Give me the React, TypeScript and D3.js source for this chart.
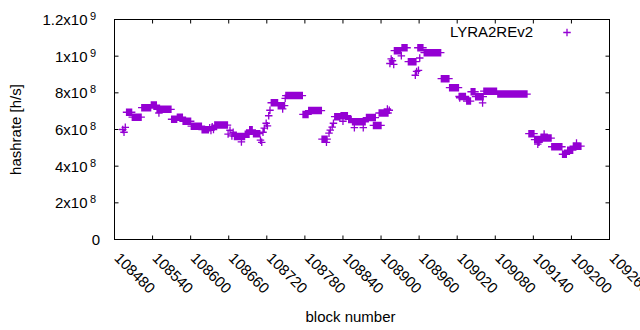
import React from 'react';
import * as d3 from 'd3';

// x axis ticks (block number)
const xTicks = [108480, 108540, 108600, 108660, 108720, 108780, 108840, 108900, 108960, 109020, 109080, 109140, 109200, 109260];
// y axis ticks (h/s) and how gnuplot printed them
const yTicks = [0, 2e8, 4e8, 6e8, 8e8, 1e9, 1.2e9];
const yTickBase = ['0', '2x10', '4x10', '6x10', '8x10', '1x10', '1.2x10'];
const yTickExp = ['', '8', '8', '8', '8', '9', '9'];

const seriesName = 'LYRA2REv2';

// block number of each sample
const blocks = [
  108493, 108495, 108497,
  108499, 108501, 108503, 108505, 108507,
  108508, 108510, 108512, 108514, 108516, 108518, 108520, 108522,
  108523, 108525, 108527, 108529, 108531, 108533, 108535, 108537,
  108538, 108540, 108542, 108544, 108546,
  108547, 108549, 108551, 108553, 108555, 108557, 108559, 108561, 108563, 108565, 108567, 108569, 108550,
  108570, 108572, 108574, 108576, 108578,
  108579, 108581, 108583, 108585, 108587,
  108588, 108590, 108592, 108594, 108596, 108598, 108600,
  108601, 108603, 108605, 108607, 108609, 108611, 108613, 108615, 108617,
  108618, 108620, 108622, 108624, 108626, 108628,
  108630, 108632, 108634, 108636,
  108638, 108640, 108642, 108644, 108646, 108648, 108650, 108652, 108654, 108656, 108658,
  108659, 108662, 108665, 108667,
  108669, 108671, 108673, 108675, 108677, 108679, 108681, 108683, 108685, 108680,
  108686, 108688, 108690, 108692,
  108693, 108695, 108697,
  108699, 108701, 108703, 108705, 108707, 108709,
  108710, 108712, 108714, 108716, 108719, 108721, 108723, 108725,
  108727, 108729, 108731, 108733, 108735, 108737,
  108738, 108740, 108742, 108744, 108746, 108748, 108745,
  108749, 108750, 108752, 108754, 108756, 108758, 108760, 108762, 108764, 108766, 108768, 108770, 108772, 108774, 108776,
  108777, 108779, 108781, 108783, 108785,
  108786, 108788, 108790, 108792, 108794, 108796, 108798, 108800, 108802, 108804, 108806,
  108807, 108809, 108811, 108813, 108815, 108814,
  108818, 108820, 108823, 108825,
  108827, 108829, 108831, 108833, 108835,
  108837, 108839, 108841, 108843, 108845, 108847, 108840,
  108849, 108851, 108853,
  108855, 108857, 108859, 108861, 108863, 108865, 108867, 108869, 108871, 108873, 108875, 108858, 108872,
  108877, 108879, 108881, 108883, 108885, 108887, 108889, 108891,
  108888, 108890, 108892, 108894, 108896, 108898, 108900,
  108897, 108899, 108901, 108903, 108905, 108907, 108909, 108911, 108913, 108910,
  108914, 108916, 108918, 108920,
  108921, 108923, 108925, 108927, 108929, 108931, 108932,
  108933, 108935, 108937, 108939, 108941,
  108943, 108945, 108947, 108949, 108951, 108953, 108955,
  108954, 108956, 108959,
  108958, 108960, 108962, 108964, 108966, 108961,
  108968, 108970, 108972, 108974, 108976, 108978, 108980, 108982, 108984, 108986, 108988, 108990, 108992, 108994,
  108995, 108997, 108999, 109001, 109003, 109005, 109007,
  109008, 109010, 109012, 109014, 109016, 109018, 109020, 109022,
  109023, 109025, 109027, 109029, 109031, 109033, 109024,
  109035, 109037, 109039, 109041,
  109042, 109044, 109046, 109048,
  109049, 109051, 109053, 109055, 109057, 109059, 109061, 109060,
  109062, 109064, 109066, 109068, 109070, 109072, 109074, 109076, 109078, 109080, 109082,
  109084, 109086, 109088, 109090, 109092, 109094, 109096, 109098, 109100, 109102, 109104, 109106,
  109108, 109110, 109112, 109114, 109116, 109118, 109120, 109122, 109124, 109126, 109128, 109130,
  109133, 109135, 109137, 109139, 109141,
  109142, 109144, 109146, 109148, 109150, 109147, 109149,
  109152, 109154, 109156, 109158, 109160, 109162, 109164, 109166, 109168, 109157,
  109169, 109171, 109173, 109175, 109177, 109179, 109181, 109183, 109185,
  109186, 109188, 109190, 109192,
  109194, 109196, 109198, 109200, 109202,
  109203, 109205, 109207, 109209, 109211, 109213, 109215, 109208,
];
// hashrate of each sample, in units of 10^8 h/s
const hashrate = [
  6.0, 5.85, 6.12,
  6.94, 6.94, 6.94, 6.94, 6.94,
  6.67, 6.67, 6.67, 6.67, 6.67, 6.67, 6.67, 6.67,
  7.19, 7.19, 7.19, 7.19, 7.19, 7.19, 7.19, 7.19,
  7.33, 7.33, 7.33, 7.33, 7.33,
  7.1, 7.1, 7.1, 7.1, 7.1, 7.1, 7.1, 7.1, 7.1, 7.1, 7.1, 7.1, 6.9,
  6.56, 6.56, 6.56, 6.56, 6.56,
  6.67, 6.67, 6.67, 6.67, 6.67,
  6.45, 6.45, 6.45, 6.45, 6.45, 6.45, 6.45,
  6.18, 6.18, 6.18, 6.18, 6.18, 6.18, 6.18, 6.18, 6.18,
  5.99, 5.99, 5.99, 5.99, 5.99, 5.99,
  6.1, 5.95, 6.15, 6.0,
  6.24, 6.24, 6.24, 6.24, 6.24, 6.24, 6.24, 6.24, 6.24, 6.24, 6.24,
  5.75, 5.96, 5.65, 5.85,
  5.62, 5.62, 5.62, 5.62, 5.62, 5.62, 5.62, 5.62, 5.62, 5.32,
  5.74, 5.74, 5.74, 5.74,
  5.98, 5.98, 5.98,
  5.77, 5.77, 5.77, 5.77, 5.77, 5.77,
  5.42, 5.3, 5.85, 6.07, 6.34, 6.2, 6.75, 7.05,
  7.46, 7.46, 7.46, 7.46, 7.46, 7.46,
  7.3, 7.3, 7.3, 7.3, 7.3, 7.3, 7.12,
  7.7, 7.85, 7.85, 7.85, 7.85, 7.85, 7.85, 7.85, 7.85, 7.85, 7.85, 7.85, 7.85, 7.85, 7.85,
  6.82, 6.82, 6.82, 6.82, 6.82,
  7.03, 7.03, 7.03, 7.03, 7.03, 7.03, 7.03, 7.03, 7.03, 7.03, 7.03,
  5.47, 5.47, 5.47, 5.47, 5.47, 5.3,
  5.8, 5.97, 6.13, 6.34,
  6.7, 6.7, 6.7, 6.7, 6.7,
  6.75, 6.75, 6.75, 6.75, 6.75, 6.75, 6.45,
  6.55, 6.55, 6.55,
  6.42, 6.42, 6.42, 6.42, 6.42, 6.42, 6.42, 6.42, 6.42, 6.42, 6.42, 6.1, 6.1,
  6.65, 6.65, 6.65, 6.65, 6.65, 6.65, 6.65, 6.65,
  6.22, 6.22, 6.22, 6.22, 6.22, 6.22, 6.22,
  6.9, 6.9, 6.9, 6.9, 6.9, 6.9, 6.9, 6.9, 7.05, 7.12,
  9.6, 9.85, 9.75, 9.55,
  10.3, 10.3, 10.3, 10.3, 10.3, 10.3, 10.02,
  10.46, 10.46, 10.46, 10.46, 10.46,
  9.7, 9.7, 9.7, 9.7, 9.7, 9.7, 9.7,
  8.96, 9.17, 9.23,
  10.46, 10.46, 10.46, 10.46, 10.46, 9.9,
  10.19, 10.19, 10.19, 10.19, 10.19, 10.19, 10.19, 10.19, 10.19, 10.19, 10.19, 10.19, 10.19, 10.19,
  8.77, 8.77, 8.77, 8.77, 8.77, 8.77, 8.77,
  8.28, 8.28, 8.28, 8.28, 8.28, 8.28, 8.28, 8.28,
  7.8, 7.8, 7.8, 7.8, 7.8, 7.8, 7.72,
  7.55, 7.55, 7.55, 7.55,
  8.06, 8.06, 8.06, 8.06,
  7.79, 7.79, 7.79, 7.79, 7.79, 7.79, 7.79, 7.45,
  8.09, 8.09, 8.09, 8.09, 8.09, 8.09, 8.09, 8.09, 8.09, 8.09, 8.09,
  7.93, 7.93, 7.93, 7.93, 7.93, 7.93, 7.93, 7.93, 7.93, 7.93, 7.93, 7.93,
  7.93, 7.93, 7.93, 7.93, 7.93, 7.93, 7.93, 7.93, 7.93, 7.93, 7.93, 7.93,
  5.77, 5.77, 5.77, 5.77, 5.77,
  5.45, 5.45, 5.45, 5.45, 5.45, 5.2, 5.3,
  5.53, 5.53, 5.53, 5.53, 5.53, 5.53, 5.53, 5.53, 5.53, 5.75,
  5.06, 5.06, 5.06, 5.06, 5.06, 5.06, 5.06, 5.06, 5.06,
  4.65, 4.65, 4.65, 4.65,
  4.87, 4.87, 4.87, 4.87, 4.87,
  5.09, 5.09, 5.09, 5.09, 5.09, 5.09, 5.09, 5.27,
];

const W = 640;
const H = 330;
const color = '#9400d3';
const font = "'Liberation Sans', Arial, Helvetica, sans-serif";

export default function App() {
  const x = d3.scaleLinear().domain([xTicks[0], xTicks[xTicks.length - 1]]).range([114.5, 609.5]);
  const y = d3.scaleLinear().domain([0, 1.2e9]).range([239.5, 19.5]);
  const [x0, x1] = x.range();
  const [y0, y1] = y.range();
  const tick = 4;
  const arm = 3.75;

  const cross = (cx: number, cy: number) =>
    `M${cx - arm},${cy}H${cx + arm}M${cx},${cy - arm}V${cy + arm}`;

  const points = blocks.map((b, i) => cross(x(b), y(hashrate[i] * 1e8))).join('');

  return (
    <svg width={W} height={H} style={{ position: 'absolute', left: 0, top: 0 }}
      fontFamily={font} fontSize={15}>
      <rect width={W} height={H} fill="#fff" />

      {/* ticks, drawn inward on all four sides */}
      <g stroke="#000" strokeWidth={1}>
        {xTicks.map(t => (
          <g key={'x' + t}>
            <line x1={x(t)} x2={x(t)} y1={y0} y2={y0 - tick} />
            <line x1={x(t)} x2={x(t)} y1={y1} y2={y1 + tick} />
          </g>
        ))}
        {yTicks.map(t => (
          <g key={'y' + t}>
            <line x1={x0} x2={x0 + tick} y1={y(t)} y2={y(t)} />
            <line x1={x1} x2={x1 - tick} y1={y(t)} y2={y(t)} />
          </g>
        ))}
      </g>
      <rect x={x0} y={y1} width={x1 - x0} height={y0 - y1} fill="none" stroke="#000" strokeWidth={1} />

      {/* y tick labels */}
      {yTicks.map((t, i) =>
        yTickExp[i] === '' ? (
          <text key={'yl' + t} x={100} y={y(t) + 5.4} textAnchor="end">{yTickBase[i]}</text>
        ) : (
          <g key={'yl' + t}>
            <text x={87.5} y={y(t) + 5.4} textAnchor="end">{yTickBase[i]}</text>
            <text x={90} y={y(t) + 0.4} fontSize={11}>{yTickExp[i]}</text>
          </g>
        )
      )}

      {/* x tick labels, rotated */}
      {xTicks.map(t => (
        <text key={'xl' + t} transform={`translate(${x(t) - 1},259) rotate(45)`}>{t}</text>
      ))}

      <text transform="translate(21,129.5) rotate(-90)" textAnchor="middle">hashrate [h/s]</text>
      <text x={350.5} y={322} textAnchor="middle">block number</text>

      {/* data */}
      <path d={points} stroke={color} strokeWidth={1.3} fill="none" />

      {/* legend */}
      <text x={533} y={37.3} textAnchor="end">{seriesName}</text>
      <path d={cross(567, 32.5)} stroke={color} strokeWidth={1.3} fill="none" />
    </svg>
  );
}
